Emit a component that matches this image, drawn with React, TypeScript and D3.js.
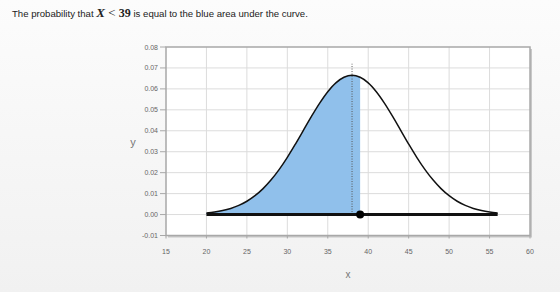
import React from "react";
import * as d3 from "d3";

const xTicks = [15, 20, 25, 30, 35, 40, 45, 50, 55, 60];
const yTicks = [-0.01, 0, 0.01, 0.02, 0.03, 0.04, 0.05, 0.06, 0.07, 0.08];
const curveX = [20, 21, 22, 23, 24, 25, 26, 27, 28, 29, 30, 31, 32, 33, 34, 35, 36, 37, 38, 39, 40, 41, 42, 43, 44, 45, 46, 47, 48, 49, 50, 51, 52, 53, 54, 55, 56];
const curveY = [0.00074, 0.0012, 0.0019, 0.00292, 0.00437, 0.00636, 0.009, 0.01239, 0.01658, 0.02159, 0.02733, 0.03367, 0.04033, 0.04699, 0.05324, 0.05868, 0.0629, 0.06557, 0.06649, 0.06557, 0.0629, 0.05868, 0.05324, 0.04699, 0.04033, 0.03367, 0.02733, 0.02159, 0.01658, 0.01239, 0.009, 0.00636, 0.00437, 0.00292, 0.0019, 0.0012, 0.00074];
const cutoff = 39;
const meanX = 38;
const meanLineTop = 0.072;

const W = 560, H = 292;
const L = 166, R = 530, T = 47, B = 235.5;

export default function App() {
  const x = d3.scaleLinear().domain([15, 60]).range([L, R]);
  const y = d3.scaleLinear().domain([-0.01, 0.08]).range([B, T]);
  const pts = curveX.map((v, i) => [v, curveY[i]] as [number, number]);
  const line = d3.line<[number, number]>().x(d => x(d[0])).y(d => y(d[1])).curve(d3.curveCatmullRom);
  const area = d3.area<[number, number]>().x(d => x(d[0])).y0(y(0)).y1(d => y(d[1])).curve(d3.curveCatmullRom);
  const shaded = pts.filter(p => p[0] <= cutoff);
  const tickFont = "'Liberation Sans', Arial, sans-serif";
  const mathFont = "'Liberation Serif', 'Times New Roman', serif";
  return (
    <svg width={W} height={H} style={{ position: "absolute", left: 0, top: 0 }}>
      <defs>
        <linearGradient id="bg" x1="0" y1="0" x2="0" y2="1">
          <stop offset="0" stopColor="#fcfcfc" />
          <stop offset="1" stopColor="#f1f1f1" />
        </linearGradient>
      </defs>
      <rect x={0} y={0} width={W} height={H} fill="url(#bg)" />
      <text x={12} y={17} fontFamily={tickFont} fontSize={9.6} fill="#222">
        <tspan>The probability that </tspan>
        <tspan fontFamily={mathFont} fontStyle="italic" fontWeight="bold" fontSize={13}>X</tspan>
        <tspan fontFamily={mathFont} fontSize={13}> &lt; </tspan>
        <tspan fontFamily={mathFont} fontWeight="bold" fontSize={12}>39</tspan>
        <tspan> is equal to the blue area under the curve.</tspan>
      </text>
      {/* plot frame shadow */}
      <rect x={L + 2} y={T + 2} width={R - L} height={B - T} fill="#c8c8c8" />
      <rect x={L} y={T} width={R - L} height={B - T} fill="#fff" />
      {xTicks.slice(1, -1).map(t => (
        <line key={"gx" + t} x1={x(t)} x2={x(t)} y1={T} y2={B} stroke="#dcdcdc" strokeWidth={1} />
      ))}
      {yTicks.slice(1, -1).map(t => (
        <line key={"gy" + t} x1={L} x2={R} y1={y(t)} y2={y(t)} stroke="#dcdcdc" strokeWidth={1} />
      ))}
      <rect x={L} y={T} width={R - L} height={B - T} fill="none" stroke="#a8a8a8" strokeWidth={1.5} />
      {/* ticks */}
      {yTicks.map(t => (
        <g key={"ty" + t}>
          <line x1={L - 6} x2={L} y1={y(t)} y2={y(t)} stroke="#a8a8a8" strokeWidth={1} />
          <text x={L - 8} y={y(t) + 2.5} textAnchor="end" fontFamily={tickFont} fontSize={7} fill="#666">{t.toFixed(2)}</text>
        </g>
      ))}
      {xTicks.map(t => (
        <g key={"tx" + t}>
          <line x1={x(t)} x2={x(t)} y1={B} y2={B + 3} stroke="#a8a8a8" strokeWidth={1} />
          <text x={x(t)} y={B + 18} textAnchor="middle" fontFamily={tickFont} fontSize={7} fill="#666">{t}</text>
        </g>
      ))}
      <text x={133} y={146} textAnchor="middle" fontFamily={tickFont} fontSize={11} fill="#777">y</text>
      <text x={348} y={278} textAnchor="middle" fontFamily={tickFont} fontSize={10} fill="#777">x</text>
      {/* shaded area */}
      <path d={area(shaded) || ""} fill="#90c0eb" />
      {/* mean line */}
      <line x1={x(meanX)} x2={x(meanX)} y1={y(0)} y2={y(meanLineTop)} stroke="#555" strokeWidth={1} strokeDasharray="1,1.5" />
      {/* curve */}
      <path d={line(pts) || ""} fill="none" stroke="#111" strokeWidth={1.5} />
      {/* baseline */}
      <line x1={x(curveX[0])} x2={x(curveX[curveX.length - 1])} y1={y(0)} y2={y(0)} stroke="#111" strokeWidth={3} />
      <circle cx={x(cutoff)} cy={y(0)} r={4} fill="#000" />
    </svg>
  );
}
